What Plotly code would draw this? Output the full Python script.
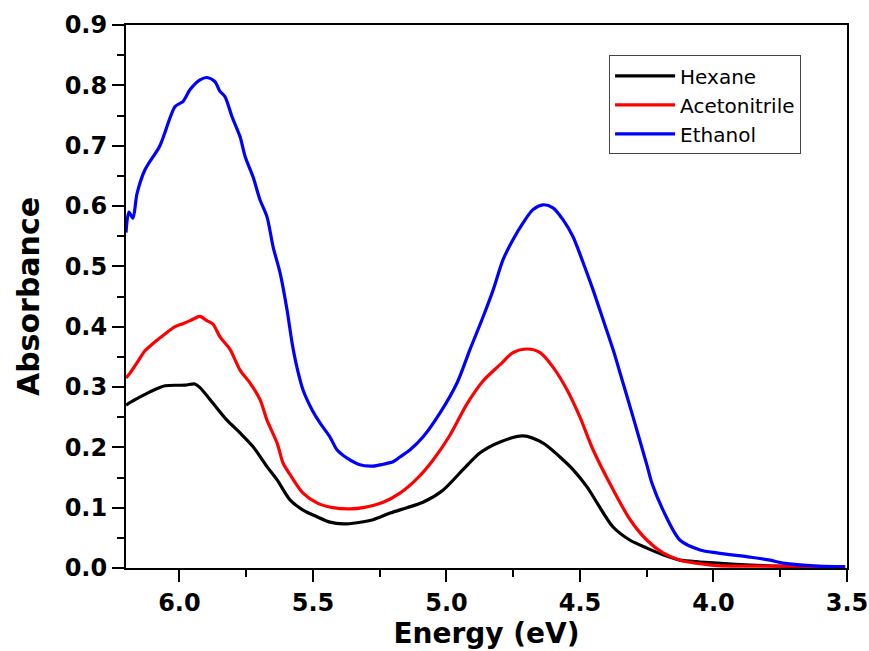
import plotly.graph_objects as go

# Hexane
hex_E = [6.200, 6.166, 6.110, 6.054, 5.979, 5.942, 5.923, 5.874, 5.822, 5.773, 5.724, 5.672,
         5.634, 5.586, 5.537, 5.485, 5.436, 5.387, 5.335, 5.275, 5.211, 5.148, 5.088, 5.013,
         4.938, 4.874, 4.799, 4.713, 4.638, 4.575, 4.526, 4.473, 4.436, 4.376, 4.312, 4.249,
         4.189, 4.125, 4.050, 3.987, 3.863, 3.676, 3.507]
hex_A = [0.270, 0.279, 0.292, 0.302, 0.303, 0.305, 0.299, 0.273, 0.245, 0.224, 0.201, 0.168,
         0.146, 0.113, 0.096, 0.085, 0.076, 0.073, 0.075, 0.080, 0.091, 0.100, 0.109, 0.129,
         0.163, 0.191, 0.209, 0.219, 0.207, 0.184, 0.163, 0.134, 0.108, 0.068, 0.046, 0.033,
         0.022, 0.013, 0.010, 0.008, 0.005, 0.002, 0.002]

# Acetonitrile
acn_E = [6.200, 6.185, 6.159, 6.129, 6.091, 6.054, 6.016, 5.987, 5.960, 5.942, 5.923, 5.897,
         5.874, 5.848, 5.810, 5.773, 5.736, 5.698, 5.672, 5.634, 5.612, 5.586, 5.537, 5.485,
         5.425, 5.361, 5.312, 5.237, 5.174, 5.110, 5.050, 4.987, 4.923, 4.863, 4.799, 4.751,
         4.698, 4.649, 4.601, 4.548, 4.500, 4.451, 4.376, 4.312, 4.249, 4.189, 4.125, 4.050,
         3.987, 3.863, 3.676, 3.507]
acn_A = [0.315, 0.323, 0.340, 0.360, 0.375, 0.388, 0.400, 0.405, 0.410, 0.414, 0.417, 0.410,
         0.404, 0.383, 0.362, 0.328, 0.307, 0.279, 0.245, 0.207, 0.174, 0.155, 0.124, 0.108,
         0.100, 0.098, 0.100, 0.109, 0.124, 0.148, 0.179, 0.220, 0.272, 0.310, 0.337, 0.357,
         0.363, 0.357, 0.333, 0.295, 0.250, 0.196, 0.130, 0.080, 0.046, 0.025, 0.013, 0.007,
         0.004, 0.003, 0.003, 0.002]

# Ethanol
eth_E = [6.200, 6.189, 6.174, 6.159, 6.129, 6.073, 6.016, 5.987, 5.960, 5.923, 5.897, 5.867,
         5.848, 5.829, 5.803, 5.773, 5.754, 5.724, 5.698, 5.672, 5.649, 5.623, 5.597, 5.578,
         5.560, 5.537, 5.503, 5.473, 5.436, 5.410, 5.372, 5.324, 5.275, 5.237, 5.200, 5.174,
         5.136, 5.088, 5.024, 4.960, 4.912, 4.863, 4.825, 4.788, 4.751, 4.713, 4.676, 4.638,
         4.601, 4.563, 4.526, 4.488, 4.451, 4.413, 4.376, 4.339, 4.301, 4.249, 4.230, 4.189,
         4.125, 4.050, 3.987, 3.863, 3.788, 3.739, 3.612, 3.507]
eth_A = [0.556, 0.590, 0.580, 0.620, 0.660, 0.700, 0.765, 0.773, 0.793, 0.809, 0.813, 0.806,
         0.790, 0.781, 0.748, 0.715, 0.682, 0.648, 0.610, 0.582, 0.532, 0.489, 0.428, 0.373,
         0.333, 0.295, 0.262, 0.240, 0.217, 0.196, 0.182, 0.171, 0.169, 0.172, 0.176, 0.184,
         0.196, 0.217, 0.257, 0.307, 0.362, 0.416, 0.461, 0.511, 0.544, 0.572, 0.594, 0.602,
         0.597, 0.577, 0.549, 0.506, 0.461, 0.411, 0.362, 0.307, 0.250, 0.170, 0.140, 0.096,
         0.046, 0.030, 0.025, 0.018, 0.013, 0.008, 0.003, 0.002]

x_ticks = [6.0, 5.5, 5.0, 4.5, 4.0, 3.5]
y_ticks = [0.0, 0.1, 0.2, 0.3, 0.4, 0.5, 0.6, 0.7, 0.8, 0.9]

FONT = "DejaVu Sans, Liberation Sans, Arial, sans-serif"

fig = go.Figure()
for name, xs, ys, col in [("Hexane", hex_E, hex_A, "#000000"),
                          ("Acetonitrile", acn_E, acn_A, "#ff0000"),
                          ("Ethanol", eth_E, eth_A, "#0000ff")]:
    fig.add_trace(go.Scatter(x=xs, y=ys, mode="lines", name=name,
                             line=dict(color=col, width=3.2, shape="spline", smoothing=0.8)))

axis_common = dict(
    showline=True, linecolor="black", linewidth=2, mirror=True,
    ticks="outside", tickcolor="black", tickwidth=2, ticklen=12,
    showgrid=False, zeroline=False, automargin=False,
    tickfont=dict(family=FONT, size=24, color="black", weight="bold"),
)

fig.update_layout(
    width=869, height=651,
    margin=dict(l=126, r=22, t=25, b=83),
    paper_bgcolor="white", plot_bgcolor="white",
    showlegend=True,
    legend=dict(x=0.67, y=0.944, xanchor="left", yanchor="top",
                bgcolor="white", bordercolor="#444444", borderwidth=1,
                font=dict(family=FONT, size=20, color="black"),
                itemwidth=60, tracegroupgap=0),
    xaxis=dict(range=[6.2, 3.5], tickvals=x_ticks, ticktext=[f"{v:.1f}" for v in x_ticks],
               minor=dict(ticks="outside", ticklen=7, tickwidth=2, tickcolor="black", dtick=0.25, tick0=3.5),
               title=dict(text="Energy (eV)", standoff=6,
                          font=dict(family=FONT, size=28, color="black", weight="bold")),
               **axis_common),
    yaxis=dict(range=[0, 0.9], tickvals=y_ticks, ticktext=[f"{v:.1f}" for v in y_ticks],
               minor=dict(ticks="outside", ticklen=7, tickwidth=2, tickcolor="black", dtick=0.05, tick0=0),
               title=dict(text="Absorbance", standoff=16,
                          font=dict(family=FONT, size=30, color="black", weight="bold")),
               **axis_common),
)

fig.write_html("out.html", config={"displayModeBar": False},
               post_script="document.body.style.margin='0';")
